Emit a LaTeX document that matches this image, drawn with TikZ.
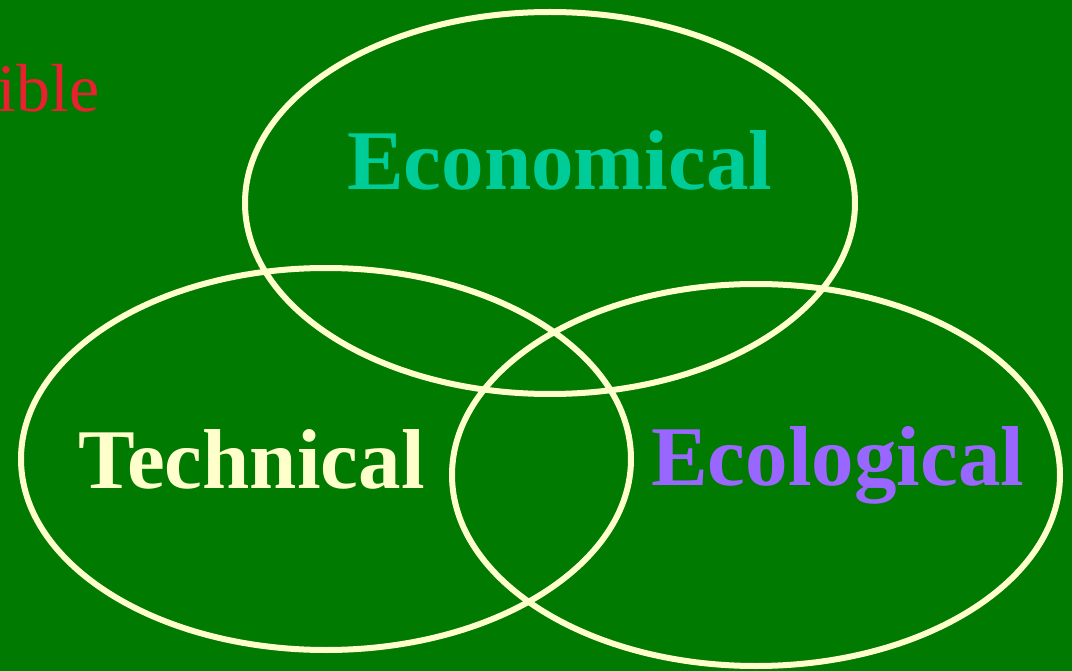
\documentclass[tikz,border=0pt]{standalone}
\usepackage{fontspec}
\setmainfont{Liberation Serif}
\usepackage{tikz}
\usetikzlibrary{positioning}
\definecolor{bggreen}{RGB}{0,122,0}
\definecolor{cream}{RGB}{255,255,204}
\definecolor{teal}{RGB}{0,204,153}
\definecolor{lilac}{RGB}{153,102,255}
\definecolor{redtxt}{RGB}{232,32,48}
\begin{document}
\begin{tikzpicture}[x=1pt, y=-1pt,
		ring/.style={draw=cream, line width=6pt},
		label/.style={font=\fontsize{85}{85}\selectfont\bfseries, inner sep=0pt, anchor=base west}]
	\fill[bggreen] (0,0) rectangle (1072,671);
	\useasboundingbox (0,0) rectangle (1072,671);
	% three rings
	\draw[ring] (550,203) ellipse [x radius=305, y radius=191];
	\draw[ring] (326,459) ellipse [x radius=305, y radius=191];
	\draw[ring] (756,475) ellipse [x radius=304, y radius=191];
	% labels
	\node at (347,190) (econ) [label, text=teal] {Economical};
	\node at (78,488) (tech) [label, text=cream] {Technical};
	\node at (651,485) (ecol) [label, text=lilac] {Ecological};
	\node at (100,112) (cut) [anchor=base east, inner sep=0pt, text=redtxt, font=\fontsize{68}{68}\selectfont] {ible};
\end{tikzpicture}
\end{document}
